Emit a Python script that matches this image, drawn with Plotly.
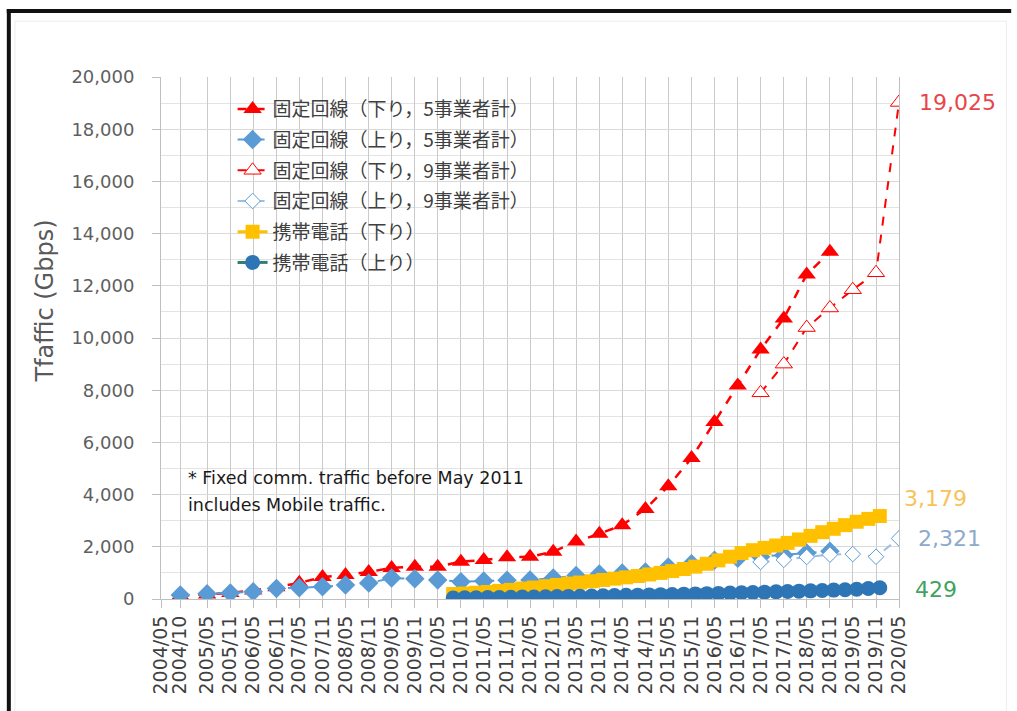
import plotly.graph_objects as go
import pandas as pd

# Category labels along the time axis (half-year steps)
tick_labels = [
    "2004/05", "2004/10", "2005/05", "2005/11", "2006/05", "2006/11",
    "2007/05", "2007/11", "2008/05", "2008/11", "2009/05", "2009/11",
    "2010/05", "2010/11", "2011/05", "2011/11", "2012/05", "2012/11",
    "2013/05", "2013/11", "2014/05", "2014/11", "2015/05", "2015/11",
    "2016/05", "2016/11", "2017/05", "2017/11", "2018/05", "2018/11",
    "2019/05", "2019/11", "2020/05",
]

# Fixed-line traffic, 5 operators (2004/10 - 2018/11)
fixed5_periods = tick_labels[1:30]
fixed5_down = [120, 170, 230, 330, 450, 620, 840, 920, 1035, 1190, 1240, 1240,
               1430, 1494, 1600, 1620, 1810, 2200, 2500, 2830, 3450, 4320,
               5400, 6780, 8180, 9560, 10750, 12430, 13300]
fixed5_up = [150, 200, 230, 280, 400, 430, 470, 540, 610, 800, 780, 730,
             660, 690, 720, 730, 800, 900, 960, 1000, 1030, 1230,
             1350, 1480, 1560, 1620, 1680, 1760, 1830]

# Fixed-line traffic, 9 operators (2017/05 - 2020/05)
fixed9_periods = tick_labels[26:33]
fixed9_down = [7900, 9000, 10400, 11150, 11850, 12500, 19025]
fixed9_up = [1420, 1500, 1610, 1700, 1720, 1620, 2321]

# Mobile traffic, quarterly (2010/09 - 2019/12)
mobile_periods = pd.date_range("2010-09-01", "2019-12-01", freq="3MS")
mobile_down = [190, 210, 240, 270, 310, 350, 400, 440, 490, 540,
               590, 630, 680, 730, 780, 830, 880, 940, 1000, 1070,
               1150, 1240, 1350, 1480, 1620, 1760, 1870, 1960, 2050, 2150,
               2280, 2420, 2560, 2690, 2830, 2960, 3070, 3179]
mobile_up = [40, 45, 50, 55, 60, 66, 72, 78, 85, 92,
             100, 108, 116, 124, 132, 140, 148, 157, 166, 175,
             185, 195, 205, 215, 226, 238, 250, 262, 274, 287,
             300, 313, 327, 341, 356, 375, 400, 429]

series_names = [
    "固定回線（下り，5事業者計）",
    "固定回線（上り，5事業者計）",
    "固定回線（下り，9事業者計）",
    "固定回線（上り，9事業者計）",
    "携帯電話（下り）",
    "携帯電話（上り）",
]

footnote_lines = ["* Fixed comm. traffic before May 2011", "includes Mobile traffic."]


def to_date(p):
    return p.replace("/", "-") + "-01"


tick_dates = [to_date(p) for p in tick_labels]
f5_x = [to_date(p) for p in fixed5_periods]
f9_x = [to_date(p) for p in fixed9_periods]

RED = "#FF0000"
LBLUE = "#5B9BD5"
YELLOW = "#FFC000"
DBLUE = "#2E75B6"

fig = go.Figure()

fig.add_trace(go.Scatter(
    x=f5_x, y=fixed5_down, name=series_names[0], legendgroup="a",
    mode="lines+markers",
    line=dict(color=RED, width=2.5, dash="dash"),
    marker=dict(symbol="triangle-up", size=16, color=RED),
))
fig.add_trace(go.Scatter(
    x=f5_x, y=fixed5_up, name=series_names[1], legendgroup="b",
    mode="lines+markers",
    line=dict(color=LBLUE, width=2, dash="dash"),
    marker=dict(symbol="diamond", size=15, color=LBLUE),
))
fig.add_trace(go.Scatter(
    x=f9_x, y=fixed9_down, name=series_names[2], legendgroup="c",
    mode="lines+markers",
    line=dict(color=RED, width=2, dash="dash"),
    marker=dict(symbol="triangle-up", size=15, color="white",
                line=dict(color=RED, width=1)),
))
fig.add_trace(go.Scatter(
    x=f9_x, y=fixed9_up, name=series_names[3], legendgroup="d",
    mode="lines+markers",
    line=dict(color="#9DBFE3", width=2, dash="dash"),
    marker=dict(symbol="diamond", size=12, color="white",
                line=dict(color=LBLUE, width=1)),
))
fig.add_trace(go.Scatter(
    x=mobile_periods, y=mobile_down, name=series_names[4], legendgroup="e",
    mode="lines+markers",
    line=dict(color=YELLOW, width=3),
    marker=dict(symbol="square", size=14, color=YELLOW),
))
fig.add_trace(go.Scatter(
    x=mobile_periods, y=mobile_up, name=series_names[5], legendgroup="f",
    mode="lines+markers",
    line=dict(color="#2F7F73", width=3),
    marker=dict(symbol="circle", size=15, color=DBLUE),
))

# Value labels at the latest points
end_labels = [
    (f9_x[-1], fixed9_down[-1], "#E8454B", 18, 0),
    (mobile_periods[-1], mobile_down[-1], "#F6C35A", 22, 18),
    (f9_x[-1], fixed9_up[-1], "#8DA9CC", 17, 0),
    (mobile_periods[-1], mobile_up[-1], "#3FA35F", 33, -2),
]
for xv, yv, col, dx, dy in end_labels:
    fig.add_annotation(
        x=xv, y=yv, text=f"{yv:,}", showarrow=False,
        xanchor="left", yanchor="middle", xshift=dx, yshift=dy,
        font=dict(family="DejaVu Sans", size=22, color=col),
    )

# Footnote (two lines)
for i, line in enumerate(footnote_lines):
    fig.add_annotation(
        xref="paper", yref="paper", x=0.034, y=0.232 - i * 0.052,
        xanchor="left", yanchor="middle", showarrow=False,
        text=line,
        font=dict(family="DejaVu Sans", size=17.5, color="#1A1A1A"),
    )

# Axis title
fig.add_annotation(
    xref="paper", yref="paper", x=-0.157, y=0.57, textangle=-90,
    showarrow=False, xanchor="center", yanchor="middle",
    text="Tfaffic (Gbps)",
    font=dict(family="DejaVu Sans", size=24, color="#595959"),
)

# Outer frame strokes
fig.add_shape(type="line", xref="paper", yref="paper",
              x0=-0.209, x1=1.152, y0=1.1265, y1=1.1265,
              line=dict(color="#111111", width=4))
fig.add_shape(type="line", xref="paper", yref="paper",
              x0=-0.2062, x1=-0.2062, y0=1.13, y1=-0.22,
              line=dict(color="#111111", width=4))
fig.add_shape(type="rect", xref="paper", yref="paper",
              x0=-0.198, x1=1.1455, y0=1.107, y1=-0.22,
              line=dict(color="#ECECEC", width=1))

fig.update_xaxes(
    type="date",
    range=[tick_dates[0], tick_dates[-1]],
    tickmode="array", tickvals=tick_dates, ticktext=tick_labels,
    tickangle=-90,
    tickfont=dict(family="DejaVu Sans", size=19, color="#404040"),
    showgrid=True, gridcolor="#CACACA", gridwidth=1,
    showline=True, linecolor="#BFBFBF", linewidth=1,
    ticks="outside", ticklen=8, tickcolor="#BFBFBF",
    zeroline=False,
)
fig.update_yaxes(
    range=[0, 20000],
    tickmode="linear", tick0=0, dtick=2000,
    tickformat=",d",
    tickfont=dict(family="DejaVu Sans", size=18, color="#5F5F5F"),
    showgrid=True, gridcolor="#D9D9D9", gridwidth=1,
    minor=dict(dtick=1000, showgrid=True, gridcolor="#E3E3E3"),
    showline=True, linecolor="#BFBFBF", linewidth=1, mirror=True,
    ticks="outside", ticklen=8, tickcolor="#BFBFBF",
    ticklabelstandoff=14,
    zeroline=False,
)

fig.update_layout(
    width=1017, height=711,
    margin=dict(l=161, r=118, t=77, b=112),
    paper_bgcolor="white", plot_bgcolor="white",
    showlegend=True,
    legend=dict(
        x=0.097, y=0.975, xanchor="left", yanchor="top",
        bgcolor="rgba(0,0,0,0)", borderwidth=0,
        tracegroupgap=3,
        font=dict(family="Noto Sans CJK JP", size=19, color="#404040"),
    ),
)

fig.write_html("out.html")
